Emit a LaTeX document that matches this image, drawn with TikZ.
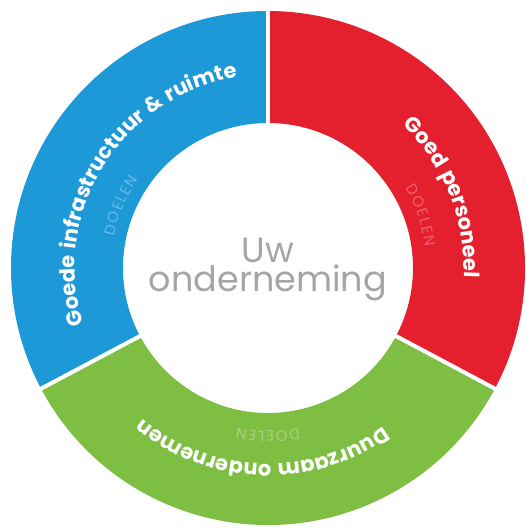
\documentclass[tikz,border=0pt]{standalone}
\usepackage{fontspec}
\setmainfont{Poppins}
\newfontfamily\ringfont[LetterSpace=6]{Poppins}
\usetikzlibrary{decorations.text}
\definecolor{ringblue}{RGB}{28,153,214}
\definecolor{ringred}{RGB}{228,31,46}
\definecolor{ringgreen}{RGB}{125,190,67}
\definecolor{doelblue}{RGB}{105,186,230}
\definecolor{doelred}{RGB}{240,96,112}
\definecolor{doelgreen}{RGB}{170,208,126}
\definecolor{firmgray}{RGB}{165,165,165}
\newcommand\dl[1]{{#1\kern1.5pt}}
\tikzset{
  ringtext/.style={decorate,decoration={text along path,text align=center,text color=white,
    text={|\ringfont\fontsize{21}{21}\selectfont\bfseries|#1}}},
  doelentext/.style={decorate,decoration={text along path,text align=center,text color=#1,
    text={|\fontsize{15}{15}\selectfont|\dl{D}\dl{O}\dl{E}\dl{L}\dl{E}{N}}}},
  gapline/.style={white,line width=4pt}
}
\begin{document}
\begin{tikzpicture}[x=1pt,y=1pt]
\useasboundingbox (-268,-263) rectangle (258,268);
%segments of the ring
\fill[ringblue] (90:257) arc[start angle=90,end angle=208,radius=257] -- (208:145) arc[start angle=208,end angle=90,radius=145] -- cycle;
\fill[ringred] (-28:257) arc[start angle=-28,end angle=90,radius=257] -- (90:145) arc[start angle=90,end angle=-28,radius=145] -- cycle;
\fill[ringgreen] (208:257) arc[start angle=208,end angle=332,radius=257] -- (332:145) arc[start angle=332,end angle=208,radius=145] -- cycle;
%white gaps between the segments
\draw[gapline] (90:140) -- (90:262);
\draw[gapline] (208:140) -- (208:262);
\draw[gapline] (-28:140) -- (-28:262);
%titles along the ring
\path[ringtext={Goede infrastructuur {\&} ruimte}] (228:193) arc[start angle=228,end angle=68,radius=193];
\path[ringtext={Goed personeel}] (102:196) arc[start angle=102,end angle=-58,radius=196];
\path[ringtext={Duurzaam ondernemen}] (-12:196) arc[start angle=-12,end angle=-172,radius=196];
%small labels on the inner side
\path[doelentext=doelblue] (207:157) arc[start angle=207,end angle=107,radius=157];
\path[doelentext=doelred] (69:159) arc[start angle=69,end angle=-31,radius=159];
\path[doelentext=doelgreen] (-40:163) arc[start angle=-40,end angle=-140,radius=163];
%centre
\node[text=firmgray,font=\fontsize{35}{29}\selectfont,align=center] (firm) at (0,-2) {Uw\\onderneming};
\end{tikzpicture}
\end{document}
